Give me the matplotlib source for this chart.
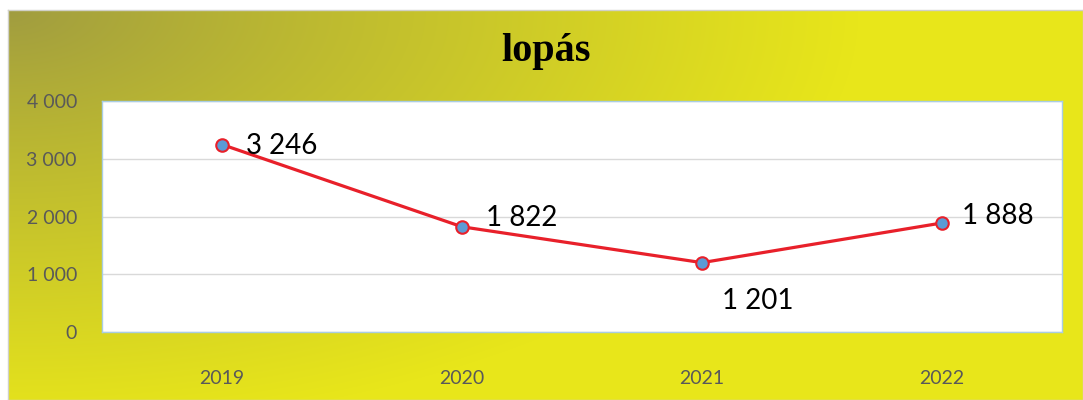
import numpy as np
import matplotlib
matplotlib.use("Agg")
import matplotlib.pyplot as plt

# adatok
years = ["2019", "2020", "2021", "2022"]
values = [3246, 1822, 1201, 1888]
yticks = [0, 1000, 2000, 3000, 4000]
title = "lopás"


def fmt(v):
    return f"{v:,}".replace(",", " ")


fig = plt.figure(figsize=(10.83, 4.0), dpi=100)
fig.patch.set_facecolor("white")

# háttér színátmenet (olívától sárgáig)
bg = fig.add_axes([8 / 1083, 0, 1 - 8 / 1083, 390 / 400])
W, H = 1075, 390
xx, yy = np.meshgrid(np.arange(W), np.arange(H))
d = np.sqrt((xx / 850.0) ** 2 + (yy / 420.0) ** 2)
t = np.clip(d, 0, 1) ** 0.9
c0 = np.array([160, 156, 64]) / 255.0
c1 = np.array([232, 230, 26]) / 255.0
img = c0[None, None, :] * (1 - t[..., None]) + c1[None, None, :] * t[..., None]
bg.imshow(img, aspect="auto", extent=[0, 1, 0, 1], origin="upper")
bg.set_xticks([])
bg.set_yticks([])
for s in bg.spines.values():
    s.set_color("#d0d0c8")
    s.set_linewidth(1)

fig.text(546 / 1083, 1 - 52 / 400, title, ha="center", va="center",
         fontsize=29, fontweight="bold", family="Liberation Serif", color="black")

ax = fig.add_axes([102 / 1083, 68 / 400, 960 / 1083, 231 / 400])
ax.set_facecolor("white")
x = np.arange(len(years))
ax.plot(x, values, color="#e8202a", linewidth=2.3, marker="o", markersize=9,
        markerfacecolor="#5b9bd5", markeredgecolor="#e8202a", markeredgewidth=1.5,
        zorder=3)

ax.set_xlim(-0.5, len(years) - 0.5)
ax.set_ylim(0, 4000)
ax.set_yticks(yticks)
ax.set_yticklabels([fmt(v) for v in yticks])
ax.set_xticks(x)
ax.set_xticklabels(years)
ax.tick_params(length=0, labelsize=14, labelcolor="#595959")
ax.tick_params(axis="y", pad=18)
ax.tick_params(axis="x", pad=27)
for lab in ax.get_xticklabels() + ax.get_yticklabels():
    lab.set_family("Lato")
ax.grid(axis="y", color="#d9d9d9", linewidth=1)
ax.set_axisbelow(True)
for s in ax.spines.values():
    s.set_color("#a9cde4")
    s.set_linewidth(1)

offsets = [(24, -1), (24, 9), (20, -38), (20, 7)]
for xi, v, (dx, dy) in zip(x, values, offsets):
    ax.annotate(fmt(v), (xi, v), xytext=(dx * 0.72, dy * 0.72),
                textcoords="offset points", ha="left", va="center",
                fontsize=20, family="Lato", color="black", zorder=4)

fig.savefig("out.png", dpi=100)
